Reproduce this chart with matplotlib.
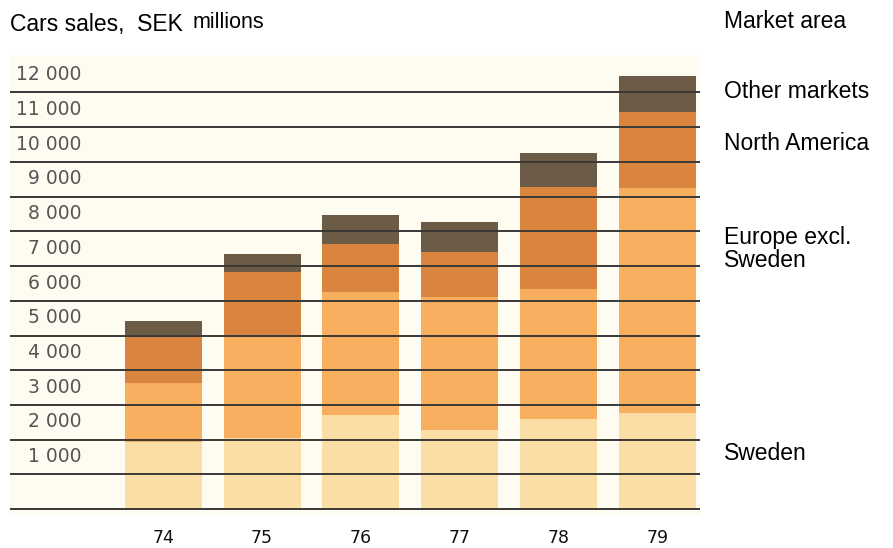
import matplotlib
matplotlib.use("Agg")
import matplotlib.pyplot as plt
import numpy as np

years = ["74", "75", "76", "77", "78", "79"]
markets = ["Sweden", "Europe excl.\nSweden", "North America", "Other markets"]
sweden = [1930, 2050, 2710, 2280, 2590, 2770]
europe = [1700, 2960, 3540, 3830, 3750, 6480]
north_america = [1380, 1820, 1390, 1300, 2940, 2190]
other = [410, 520, 830, 860, 980, 1040]
yticks = list(range(0, 13000, 1000))

colors = ["#FBDDA6", "#F7AE5F", "#D9853F", "#6B5B47"]

W, H = 893, 548
fig = plt.figure(figsize=(W / 100, H / 100), dpi=100)
fig.patch.set_facecolor("white")
ax = fig.add_axes([10 / W, 1 - 515 / H, 690 / W, (515 - 55) / H])
ax.set_facecolor("#FEFBF1")

x = np.arange(len(years))
bottom = np.zeros(len(years))
for vals, c in zip([sweden, europe, north_america, other], colors):
    ax.bar(x, vals, 0.78, bottom=bottom, color=c, linewidth=0, zorder=2)
    bottom += np.array(vals)

for v in yticks:
    ax.axhline(v, color="#3A3836", lw=1.4, zorder=3)
    if v > 0:
        ax.text(0.104, v + 510, f"{v:,}".replace(",", " "), transform=ax.get_yaxis_transform(),
                ha="right", va="center", fontsize=13.5, color="#555555", zorder=4)

ax.set_xlim(-1.55, 5.43)
ax.set_ylim(-170, 13080)
ax.set_yticks([])
ax.set_xticks(x, years)
ax.tick_params(axis="x", length=0, pad=10, labelsize=12.5, labelcolor="#111111")
for s in ax.spines.values():
    s.set_visible(False)

fig.text(10 / W, 1 - 25 / H, "Cars sales,  SEK", fontsize=16.5, family="Liberation Sans", va="center", ha="left")
fig.text(193 / W, 1 - 23 / H, "millions", fontsize=15.5, family="Liberation Sans", va="center", ha="left")

right_labels = [("Market area", 22), ("Other markets", 92), ("North America", 144),
                ("Europe excl.\nSweden", 249), ("Sweden", 453)]
for txt, ypx in right_labels:
    fig.text(724 / W, 1 - ypx / H, txt, fontsize=16.5, family="Liberation Sans",
             va="center", ha="left", linespacing=1.0)

fig.savefig("out.png", dpi=100)
